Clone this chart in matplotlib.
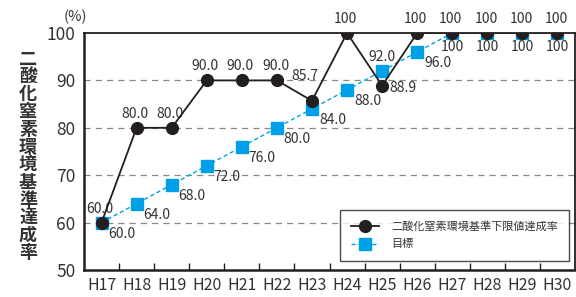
import matplotlib
matplotlib.use("Agg")
import matplotlib.pyplot as plt
import numpy as np

plt.rcParams["font.family"] = ["Noto Sans CJK JP", "DejaVu Sans"]

years = ["H17", "H18", "H19", "H20", "H21", "H22", "H23", "H24",
         "H25", "H26", "H27", "H28", "H29", "H30"]
actual = [60.0, 80.0, 80.0, 90.0, 90.0, 90.0, 85.7, 100, 88.9, 100, 100, 100, 100, 100]
target = [60.0, 64.0, 68.0, 72.0, 76.0, 80.0, 84.0, 88.0, 92.0, 96.0, 100, 100, 100, 100]
actual_text = ["60.0", "80.0", "80.0", "90.0", "90.0", "90.0", "85.7", "100",
               "88.9", "100", "100", "100", "100", "100"]
target_text = ["60.0", "64.0", "68.0", "72.0", "76.0", "80.0", "84.0", "88.0",
               "92.0", "96.0", "100", "100", "100", "100"]
y_ticks = [50, 60, 70, 80, 90, 100]
ylabel = "二酸化窒素環境基準達成率"
legend_labels = ["二酸化窒素環境基準下限値達成率", "目標"]

BLACK = "#231f20"
BLUE = "#00a0e9"
TEXT = "#333333"

fig = plt.figure(figsize=(5.76, 2.97), dpi=100)
ax = fig.add_axes([84 / 576, 27 / 297, 491 / 576, 237 / 297])

x = np.arange(len(years))
ax.plot(x, target, color=BLUE, linestyle=(0, (3, 2)), linewidth=1.0,
        marker="s", markersize=8, markerfacecolor=BLUE, markeredgecolor=BLUE,
        label=legend_labels[1], zorder=3)
ax.plot(x, actual, color=BLACK, linewidth=1.3, marker="o", markersize=8.5,
        markerfacecolor=BLACK, markeredgecolor=BLACK, label=legend_labels[0], zorder=4)

fs = 10
for i, (v, t) in enumerate(zip(actual, actual_text)):
    if i == 6:
        ax.annotate(t, (i, v), xytext=(-5, 13), textcoords="offset points",
                    ha="center", va="bottom", fontsize=fs, color=TEXT)
    elif i == 8:
        ax.annotate(t, (i, v), xytext=(5, -2), textcoords="offset points",
                    ha="left", va="center", fontsize=fs, color=TEXT)
    else:
        ax.annotate(t, (i, v), xytext=(-1, 5), textcoords="offset points",
                    ha="center", va="bottom", fontsize=fs, color=TEXT)
for i, (v, t) in enumerate(zip(target, target_text)):
    if i == 8:
        ax.annotate(t, (i, v), xytext=(0, 5), textcoords="offset points",
                    ha="center", va="bottom", fontsize=fs, color=TEXT)
    elif i >= 10:
        ax.annotate(t, (i, v), xytext=(0, -5), textcoords="offset points",
                    ha="center", va="top", fontsize=fs, color=TEXT)
    else:
        ax.annotate(t, (i, v), xytext=(5, -3), textcoords="offset points",
                    ha="left", va="top", fontsize=fs, color=TEXT)

ax.set_xlim(-0.5, len(years) - 0.5)
ax.set_ylim(50, 100)
ax.set_yticks(y_ticks)
ax.set_yticklabels([str(v) for v in y_ticks], fontsize=12.5, color=TEXT)
ax.set_xticks(x)
ax.set_xticklabels(years, fontsize=11.5, color=TEXT)
ax.set_xticks(np.arange(0.5, len(years) - 1, 1), minor=True)
ax.tick_params(axis="x", which="major", length=0, pad=5)
ax.tick_params(axis="x", which="minor", direction="in", length=5, width=1, color=BLACK)
ax.tick_params(axis="y", length=0, pad=6)

for val in y_ticks[1:-1]:
    ax.axhline(val, color="#888888", linewidth=0.9, linestyle=(0, (5, 4)), zorder=1)

for side in ["left", "bottom"]:
    ax.spines[side].set_linewidth(1.8)
    ax.spines[side].set_color(BLACK)
for side in ["top", "right"]:
    ax.spines[side].set_linewidth(1.3)
    ax.spines[side].set_color(BLACK)

handles, labels = ax.get_legend_handles_labels()
leg = ax.legend(handles[::-1], labels[::-1], loc="lower right",
                bbox_to_anchor=(0.9885, 0.04), fontsize=8, frameon=True,
                fancybox=False, edgecolor=BLACK, handlelength=2.5,
                borderpad=1.0, labelspacing=0.7, handletextpad=1.1,
                borderaxespad=0.0)
leg.get_frame().set_linewidth(1.0)
for t in leg.get_texts():
    t.set_color(TEXT)

fig.text(75 / 576, 1 - 17 / 297, "(%)", ha="center", va="center", fontsize=10.5, color=TEXT)

n = len(ylabel)
top_c, bot_c = 59, 253
for k, ch in enumerate(ylabel):
    yc = top_c + (bot_c - top_c) * k / (n - 1)
    fig.text(28 / 576, 1 - yc / 297, ch, ha="center", va="center",
             fontsize=13, fontweight="bold", color=TEXT)

fig.savefig("out.png", dpi=100)
